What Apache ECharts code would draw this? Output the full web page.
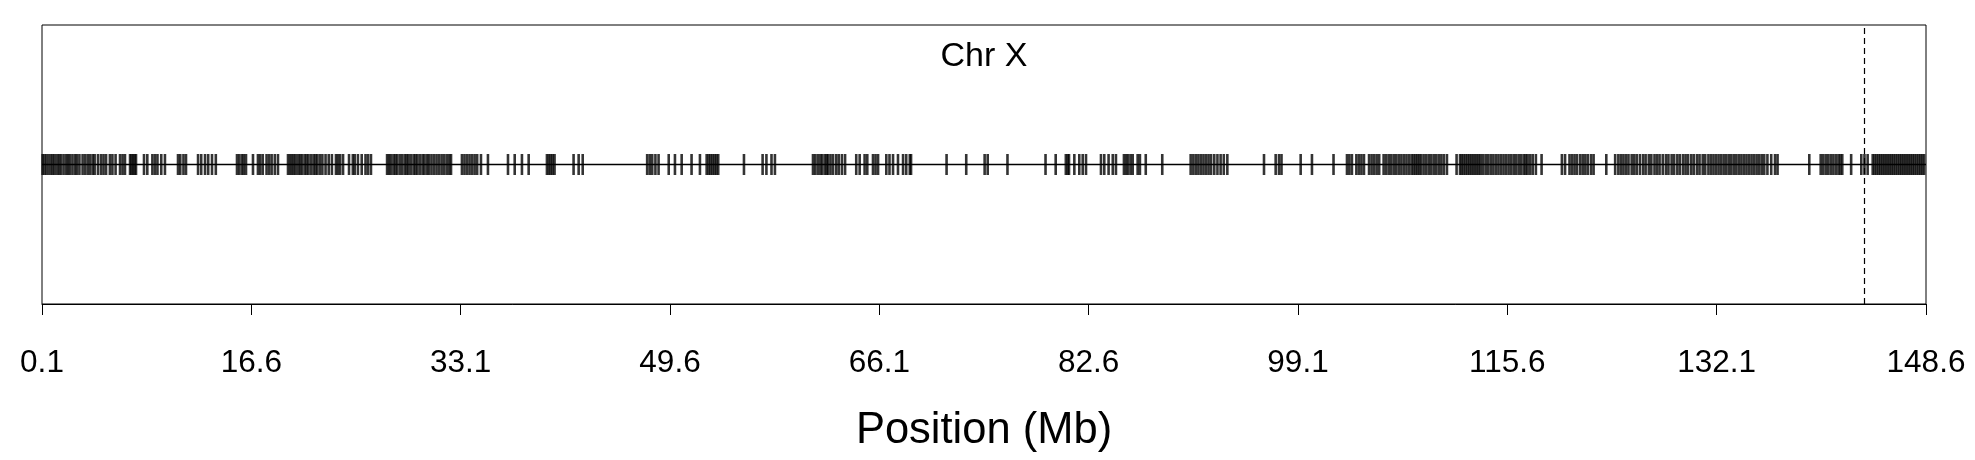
<!DOCTYPE html>
<html>
<head>
<meta charset="utf-8">
<script src="https://cdn.jsdelivr.net/npm/echarts@6/dist/echarts.min.js"></script>
<style>
html,body{margin:0;padding:0;background:#fff;}
#chart{width:1975px;height:460px;}
</style>
</head>
<body>
<div id="chart"></div>
<script>
// Chromosome X marker positions (Mb)
var rug0to25 = [0.15,0.3,0.45,0.62,0.8,0.95,1.1,1.3,1.45,1.6,1.8,2.0,2.15,2.3,2.5,2.7,2.85,3.05,3.3,3.5,3.7,3.9,4.1,4.25,
  4.51,4.75,4.95,5.15,5.45,5.65,5.9,6.25,6.45,6.64,7.04,7.15,7.28,7.4,7.51,
  8.14,8.4,8.8,9.0,9.2,9.5,9.79,10.82,11.0,11.25,11.45,
  12.4,12.65,12.95,13.2,13.5,13.8,15.47,15.65,15.85,16.0,16.18,16.73,
  17.12,17.3,17.5,17.8,18.0,18.2,18.45,18.7,
  19.49,19.65,19.8,19.95,20.1,20.3,20.45,20.6,20.8,20.95,21.1,21.3,21.5,21.65,21.8,22.0,22.2,22.45,22.7,22.95,23.27,
  23.43,23.6,23.83,24.3,24.6];
var rug25to50 = [24.75,25.0,25.3,25.6,25.8,26.03,
  27.3,27.45,27.6,27.8,27.95,28.1,28.3,28.5,28.7,28.85,29.0,29.2,29.4,29.55,29.7,29.9,30.1,30.25,30.45,30.6,30.8,31.0,31.2,31.4,31.6,31.8,32.0,32.2,32.34,
  33.2,33.4,33.6,33.8,34.0,34.2,34.4,34.7,35.25,36.83,
  37.36,37.93,38.46,39.9,40.05,40.2,40.35,40.5,42.0,42.4,42.72,
  47.8,48.0,48.2,48.45,48.7,49.5];
var rug50to75 = [49.99,50.52,51.3,51.96,52.49,52.65,52.8,52.95,53.1,53.25,53.4,55.43,
  56.9,57.2,57.6,57.87,60.87,61.05,61.25,61.45,61.6,61.8,61.95,
  62.05,62.25,62.45,62.7,62.9,63.15,63.4,64.28,64.55,64.94,65.15,65.6,65.8,66.0,
  66.65,66.9,67.18,67.57,67.97,68.22,68.5,68.6,71.4,72.95,74.4];
var rug75to100 = [74.64,76.2,79.2,80.0,80.8,80.95,81.05,81.47,81.86,82.13,82.39,
  83.57,83.83,84.17,84.5,84.75,85.38,85.55,85.7,85.9,86.07,86.46,86.64,
  87.1,88.4,90.64,90.85,91.05,91.25,91.45,91.65,91.85,92.05,92.25,92.5,92.75,93.0,93.25,93.53,
  96.42,97.34,97.6,97.8,99.31];
var rug100to125 = [100.2,101.9,
  102.96,103.15,103.35,103.7,103.9,104.1,104.3,104.7,104.9,105.1,105.3,105.5,105.85,106.05,106.25,106.45,106.65,106.85,107.05,107.25,107.45,107.65,107.85,108.05,108.2,108.35,108.5,108.65,108.8,109.0,109.2,109.4,109.6,109.8,110.0,110.2,110.4,110.6,110.84,
  111.6,111.87,112.0,112.15,112.3,112.45,112.6,112.75,112.9,113.05,113.2,113.35,113.5,113.7,113.9,114.1,114.3,114.5,114.7,114.9,115.1,115.3,115.5,115.7,115.9,116.1,116.3,116.5,116.7,116.9,117.05,117.2,117.4,117.6,117.85,118.3,
  119.9,120.15,120.5,120.7,120.9,121.1,121.35,121.55,121.75,121.95,122.2,122.4,123.4,124.1];
var rug125to149 = [124.35,124.55,124.75,124.95,125.15,125.4,125.6,125.8,126.05,126.3,126.5,126.75,126.95,127.2,127.4,127.6,127.85,128.1,128.3,128.55,128.75,129.0,129.2,129.45,129.65,129.85,130.1,130.3,130.55,130.75,131.0,131.2,131.45,131.65,131.85,132.05,132.25,132.45,132.65,132.85,133.05,133.25,133.45,133.65,133.85,134.05,134.25,134.45,134.65,134.85,135.05,135.25,135.45,135.65,135.85,136.1,136.4,136.7,
  136.9,139.4,140.3,140.5,140.7,140.9,141.1,141.3,141.5,141.7,141.85,142.0,142.7,143.5,143.75,144.0,
  144.4,144.55,144.7,144.85,145.0,145.15,145.3,145.45,145.6,145.75,145.9,146.05,146.2,146.35,146.5,146.65,146.8,146.95,147.1,147.25,147.4,147.55,147.7,147.85,148.0,148.15,148.3,148.45];

var xMin = 0.1, xMax = 148.6, xStep = 16.5;
var cutoffMb = 143.7;
var chromName = 'Chr X';
var axisTitle = 'Position (Mb)';

var allPos = [].concat(rug0to25, rug25to50, rug50to75, rug75to100, rug100to125, rug125to149);
var rugData = allPos.map(function (p) { return [p, 0]; });

var chart = echarts.init(document.getElementById('chart'), null, {renderer: 'canvas'});
chart.setOption({
  animation: false,
  backgroundColor: '#fff',
  title: {
    text: chromName, left: 979, top: 35, textAlign: 'center',
    textStyle: {fontFamily: 'Liberation Sans', fontSize: 34, fontWeight: 'normal', color: '#000'}
  },
  grid: {left: 42, right: 49, top: 25, bottom: 156, show: true, borderColor: '#000', borderWidth: 1, backgroundColor: 'transparent'},
  xAxis: {
    type: 'value', min: xMin, max: xMax, interval: xStep,
    name: axisTitle, nameLocation: 'middle', nameGap: 105,
    nameTextStyle: {fontFamily: 'Liberation Sans', fontSize: 43.5, color: '#000'},
    axisLine: {show: true, onZero: false, lineStyle: {color: '#000', width: 1}},
    axisTick: {show: true, length: 11, lineStyle: {color: '#000', width: 1}},
    axisLabel: {
      show: true, margin: 43, color: '#000', fontFamily: 'Liberation Sans', fontSize: 31.5,
      showMinLabel: true, showMaxLabel: true,
      formatter: function (v) { return (Math.round(v * 10) / 10).toFixed(1); }
    },
    splitLine: {show: false}
  },
  yAxis: {type: 'value', min: -1, max: 1, show: false},
  series: [
    {
      type: 'line', data: [[xMin, 0], [xMax, 0]], symbol: 'none',
      lineStyle: {color: '#000', width: 1.4}, silent: true,
      markLine: {
        symbol: 'none', silent: true, label: {show: false},
        lineStyle: {color: '#000', width: 1.2, type: [6, 4]},
        data: [{xAxis: cutoffMb}]
      }
    },
    {
      type: 'scatter', data: rugData, symbol: 'rect', symbolSize: [2.6, 21],
      itemStyle: {color: '#000'}, silent: true
    }
  ]
});
</script>
</body>
</html>
